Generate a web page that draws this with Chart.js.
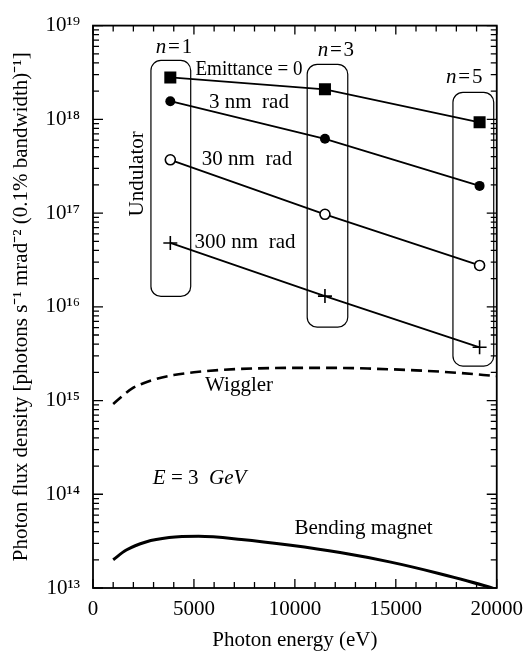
<!DOCTYPE html>
<html>
<head>
<meta charset="utf-8">
<script src="https://cdn.jsdelivr.net/npm/chart.js@4"></script>
<style>
  html, body { margin: 0; padding: 0; background: #fff; }
  canvas { display: block; }
</style>
</head>
<body>
<canvas id="fluxChart" width="532" height="653"></canvas>
<script>
// undulator harmonics n = 1, 3, 5
var harmonic_energy = [3830, 11490, 19150];
var emit_0 = [2.8e18, 2.09e18, 9.3e17];
var emit_3nm = [1.56e18, 6.2e17, 1.95e17];
var emit_30nm = [3.7e17, 9.7e16, 2.76e16];
var emit_300nm = [4.8e16, 1.3e16, 3.7e15];

var wiggler_energy = [1000, 1500, 2000, 2500, 3000, 4000, 5000, 6500, 8000, 10000, 12000, 14000, 16000, 18000, 20000];
var wiggler_flux = [9.2e14, 1.14e15, 1.37e15, 1.53e15, 1.67e15, 1.87e15, 2.0e15, 2.13e15, 2.2e15, 2.23e15, 2.23e15, 2.18e15, 2.1e15, 1.98e15, 1.82e15];

var bend_energy = [1000, 1650, 2620, 3770, 5230, 7350, 9800, 12240, 14690, 17130, 19580, 20000];
var bend_flux = [2.0e13, 2.54e13, 3.1e13, 3.45e13, 3.56e13, 3.3e13, 2.86e13, 2.39e13, 1.9e13, 1.43e13, 1.03e13, 9.6e12];

var x_ticks = [0, 5000, 10000, 15000, 20000];
var x_tick_labels = ["0", "5000", "10000", "15000", "20000"];
var y_decades = [13, 14, 15, 16, 17, 18, 19];
var y_tick_labels = ["10¹³", "10¹⁴", "10¹⁵", "10¹⁶", "10¹⁷", "10¹⁸", "10¹⁹"];

var serif = '"Liberation Serif", "Times New Roman", serif';
Chart.defaults.color = '#000';
Chart.defaults.font.family = serif;

function pts(xs, ys) {
  return xs.map(function (x, i) { return {x: x, y: ys[i]}; });
}

// rounded frames around each harmonic (data units)
var harmonic_boxes = [
  {x0: 2870, x1: 4840, y0: 1.29e16, y1: 4.25e18},
  {x0: 10610, x1: 12620, y0: 6.06e15, y1: 3.86e18},
  {x0: 17830, x1: 19850, y0: 2.33e15, y1: 1.94e18}
];

// text placed on the plot, anchored in data units; runs are [text, italic]
var notes = [
  {x: 4010, y: 5.84e18, runs: [["n", true], ["\u200a=\u200a1", false]]},
  {x: 12030, y: 5.43e18, runs: [["n", true], ["\u200a=\u200a3", false]]},
  {x: 18390, y: 2.8e18, runs: [["n", true], ["\u200a=\u200a5", false]]},
  {x: 7726, y: 3.41e18, runs: [["Emittance = 0", false]], maxWidth: 107},
  {x: 7726, y: 1.52e18, runs: [["3 nm  rad", false]]},
  {x: 7628, y: 3.69e17, runs: [["30 nm  rad", false]]},
  {x: 7531, y: 4.84e16, runs: [["300 nm  rad", false]]},
  {x: 2200, y: 2.62e17, runs: [["Undulator", false]], rotate: true},
  {x: 7237, y: 1.43e15, runs: [["Wiggler", false]]},
  {x: 5281, y: 1.47e14, runs: [["E", true], [" = 3  ", false], ["GeV", true]]},
  {x: 13400, y: 4.34e13, runs: [["Bending magnet", false]]}
];

function drawRuns(ctx, runs, cx, cy, size, maxWidth) {
  var total = 0;
  var widths = runs.map(function (r) {
    ctx.font = (r[1] ? 'italic ' : '') + size + 'px ' + serif;
    var w = ctx.measureText(r[0]).width;
    total += w;
    return w;
  });
  var scale = (maxWidth && total > maxWidth) ? maxWidth / total : 1;
  var x = cx - total * scale / 2;
  ctx.textAlign = 'left';
  ctx.textBaseline = 'middle';
  runs.forEach(function (r, i) {
    ctx.font = (r[1] ? 'italic ' : '') + size + 'px ' + serif;
    if (scale < 1) ctx.fillText(r[0], x, cy, widths[i] * scale);
    else ctx.fillText(r[0], x, cy);
    x += widths[i] * scale;
  });
}

var decorations = {
  id: 'decorations',
  beforeDatasetsDraw: function (chart) {
    var ctx = chart.ctx, xs = chart.scales.x, ys = chart.scales.y;
    ctx.save();
    ctx.strokeStyle = '#000';
    ctx.lineWidth = 1.2;
    harmonic_boxes.forEach(function (b) {
      var l = xs.getPixelForValue(b.x0), r = xs.getPixelForValue(b.x1);
      var t = ys.getPixelForValue(b.y1), btm = ys.getPixelForValue(b.y0);
      ctx.beginPath();
      ctx.roundRect(l, t, r - l, btm - t, 10);
      ctx.stroke();
    });
    ctx.restore();
  },
  afterDraw: function (chart) {
    var ctx = chart.ctx, a = chart.chartArea, xs = chart.scales.x, ys = chart.scales.y;
    ctx.save();
    ctx.strokeStyle = '#000';
    ctx.fillStyle = '#000';

    // inward ticks on all four sides
    ctx.lineWidth = 1.3;
    ctx.beginPath();
    for (var e = 0; e <= 20000; e += 1000) {
      var px = xs.getPixelForValue(e);
      var len = (e % 5000 === 0) ? 9 : 6;
      ctx.moveTo(px, a.bottom); ctx.lineTo(px, a.bottom - len);
      ctx.moveTo(px, a.top); ctx.lineTo(px, a.top + len);
    }
    y_decades.forEach(function (d) {
      for (var m = 1; m <= 9; m++) {
        var v = m * Math.pow(10, d);
        if (v > ys.max * 1.0001) break;
        var py = ys.getPixelForValue(v);
        var len = (m === 1) ? 10 : 6;
        ctx.moveTo(a.left, py); ctx.lineTo(a.left + len, py);
        ctx.moveTo(a.right, py); ctx.lineTo(a.right - len, py);
      }
    });
    ctx.stroke();

    // frame
    ctx.lineWidth = 1.8;
    ctx.strokeRect(a.left, a.top, a.right - a.left, a.bottom - a.top);

    // labels on the plot
    notes.forEach(function (n) {
      var cx = xs.getPixelForValue(n.x), cy = ys.getPixelForValue(n.y);
      if (n.rotate) {
        ctx.save();
        ctx.translate(cx, cy);
        ctx.rotate(-Math.PI / 2);
        drawRuns(ctx, n.runs, 0, 0, 21);
        ctx.restore();
      } else {
        drawRuns(ctx, n.runs, cx, cy, 21, n.maxWidth);
      }
    });
    ctx.restore();
  }
};

var ctx = document.getElementById('fluxChart').getContext('2d');
var chart = new Chart(ctx, {
  type: 'scatter',
  data: {
    datasets: [{
        label: 'Emittance = 0',
        data: pts(harmonic_energy, emit_0),
        showLine: true,
        borderColor: '#000',
        borderWidth: 1.8,
        pointStyle: 'rect',
        pointRadius: 8.5,
        pointBackgroundColor: '#000',
        pointBorderColor: '#000',
        pointBorderWidth: 0
      }, {
        label: '3 nm rad',
        data: pts(harmonic_energy, emit_3nm),
        showLine: true,
        borderColor: '#000',
        borderWidth: 1.8,
        pointStyle: 'circle',
        pointRadius: 5,
        pointBackgroundColor: '#000',
        pointBorderColor: '#000',
        pointBorderWidth: 0
      }, {
        label: '30 nm rad',
        data: pts(harmonic_energy, emit_30nm),
        showLine: true,
        borderColor: '#000',
        borderWidth: 1.8,
        pointStyle: 'circle',
        pointRadius: 5,
        pointBackgroundColor: '#fff',
        pointBorderColor: '#000',
        pointBorderWidth: 1.6
      }, {
        label: '300 nm rad',
        data: pts(harmonic_energy, emit_300nm),
        showLine: true,
        borderColor: '#000',
        borderWidth: 1.8,
        pointStyle: 'cross',
        pointRadius: 7,
        pointBorderColor: '#000',
        pointBorderWidth: 1.6
      }, {
        label: 'Wiggler',
        data: pts(wiggler_energy, wiggler_flux),
        showLine: true,
        borderColor: '#000',
        borderWidth: 2.6,
        borderDash: [11, 6],
        cubicInterpolationMode: 'monotone',
        pointRadius: 0
      }, {
        label: 'Bending magnet',
        data: pts(bend_energy, bend_flux),
        showLine: true,
        borderColor: '#000',
        borderWidth: 3,
        cubicInterpolationMode: 'monotone',
        pointRadius: 0
      }
    ]
  },
  options: {
    responsive: false,
    animation: false,
    layout: {padding: {top: 23, right: 30, left: 0, bottom: 0}},
    plugins: {legend: {display: false}, tooltip: {enabled: false}},
    scales: {
      x: {
        type: 'linear',
        min: 0,
        max: 20000,
        grid: {display: false, drawTicks: false},
        border: {display: false},
        afterBuildTicks: function (s) { s.ticks = x_ticks.map(function (v) { return {value: v}; }); },
        afterFit: function (s) { s.height = 65; },
        ticks: {
          padding: 9,
          font: {size: 21},
          callback: function (v, i) { return x_tick_labels[i]; }
        },
        title: {display: true, text: 'Photon energy (eV)', font: {size: 21, lineHeight: 1.2}, padding: 0}
      },
      y: {
        type: 'logarithmic',
        min: 1e13,
        max: 1e19,
        grid: {display: false, drawTicks: false},
        border: {display: false},
        afterBuildTicks: function (s) { s.ticks = y_decades.map(function (d) { return {value: Math.pow(10, d)}; }); },
        afterFit: function (s) { s.width = 93; },
        ticks: {
          padding: 13,
          font: {size: 21},
          callback: function (v, i) { return y_tick_labels[i]; }
        },
        title: {
          display: true,
          text: 'Photon flux density [photons s⁻¹ mrad⁻² (0.1% bandwidth)⁻¹]',
          font: {size: 21, lineHeight: 1.2},
          padding: {top: 9, bottom: 0}
        }
      }
    }
  },
  plugins: [decorations]
});
</script>
</body>
</html>
